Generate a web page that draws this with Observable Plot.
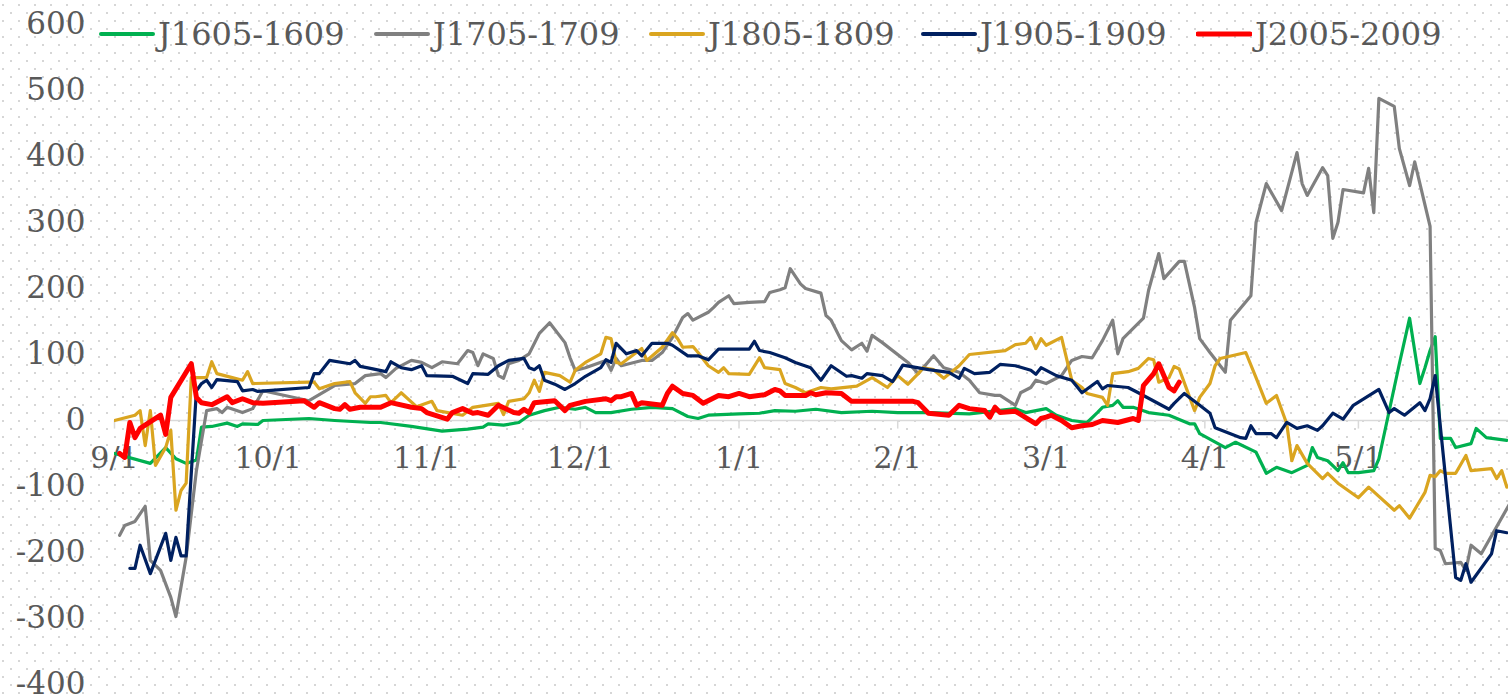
<!DOCTYPE html>
<html>
<head>
<meta charset="utf-8">
<script src="https://cdn.jsdelivr.net/npm/d3@7"></script>
<script src="https://cdn.jsdelivr.net/npm/@observablehq/plot@0.6"></script>
<style>
  html, body { margin: 0; padding: 0; overflow: hidden; width: 1508px; height: 697px; }
  body {
    background-color: #ffffff;
    background-image: url("data:image/svg+xml,%3Csvg xmlns='http://www.w3.org/2000/svg' width='16' height='16'%3E%3Crect x='2' y='4' width='2' height='2' fill='%23d6d6d6'/%3E%3Crect x='10' y='12' width='2' height='2' fill='%23d6d6d6'/%3E%3C/svg%3E");
    background-repeat: repeat;
    font-family: "DejaVu Serif", serif;
  }
  #wrap { position: relative; width: 1508px; height: 697px; }
  #chart { position: absolute; left: 0; top: 0; }
  #legend { position: absolute; left: 0; top: 0; width: 1508px; height: 60px; }
  .item { position: absolute; top: 14px; height: 40px; display: flex; align-items: center; color: #595959; font-size: 32px; white-space: nowrap; }
  .item svg { display: block; margin-right: 3px; }
</style>
</head>
<body>
<div id="wrap">
  <div id="chart"></div>
  <div id="legend"></div>
</div>
<script>
// ---- Series names / colours ----
const seriesNames = ["J1605-1609", "J1705-1709", "J1805-1809", "J1905-1909", "J2005-2009"];
const seriesColors = ["#00B050", "#808080", "#DAA520", "#002060", "#FF0000"];

// ---- Axis ticks ----
const yTicks = [-400, -300, -200, -100, 0, 100, 200, 300, 400, 500, 600];
const xTickLabels = ["9/1", "10/1", "11/1", "12/1", "1/1", "2/1", "3/1", "4/1", "5/1"];

// ---- J1605-1609 ----
const j1605Dates = ["9/1","9/8","9/11","9/13","9/15","9/17","9/18","9/20","9/23","9/25","9/26","9/29","9/30",
"10/9","10/14","10/21","10/23","10/29","11/4","11/9","11/12","11/13","11/16","11/19","11/21","11/24","11/27","11/30",
"12/2","12/4","12/7","12/11","12/15","12/19","12/22","12/24","12/26","1/1","1/5","1/8","1/12","1/16","1/21","1/27",
"2/1","2/7","2/15","2/24","2/26","3/1","3/3","3/6","3/9","3/11","3/12","3/14","3/15","3/16","3/18","3/21","3/25","3/29","3/30","3/31",
"4/5","4/7","4/11","4/13","4/15","4/18","4/21","4/22","4/23","4/25","4/27","4/28","4/29",
"5/1","5/4","5/5","5/9","5/11","5/13","5/14","5/15","5/16","5/17","5/19","5/20","5/23","5/24","5/26","5/30"];
const j1605Values = [-50,-65,-41,-58,-65,-60,-10,-9,-4,-9,-5,-6,0,
3,0,-3,-3,-9,-16,-13,-10,-5,-7,-3,8,15,20,17,
20,12,12,17,20,18,6,3,8,10,11,15,14,17,12,14,
12,12,10,18,12,18,8,0,-3,12,20,23,30,20,20,12,8,-5,-5,-20,
-41,-33,-48,-80,-71,-79,-68,-41,-56,-61,-76,-64,-79,
-79,-76,-58,86,155,56,80,106,127,-27,-27,-41,-35,-12,-26,-30];

// ---- J1705-1709 ----
const j1705Dates = ["9/2","9/3","9/5","9/7","9/8","9/10","9/12","9/13","9/15","9/17","9/19","9/21","9/22","9/23","9/26","9/28","9/30",
"10/9","10/14","10/18","10/20","10/23","10/24","10/26","10/29","10/31",
"11/2","11/4","11/7","11/9","11/10","11/11","11/12","11/14","11/15","11/16","11/17","11/19","11/21","11/23","11/25","11/28","11/29","11/30",
"12/2","12/6","12/7","12/8","12/9","12/13","12/15","12/17","12/19","12/21","12/22","12/23","12/26","12/27","12/28","12/30","12/31",
"1/3","1/6","1/7","1/9","1/10","1/11","1/13","1/14","1/17","1/18","1/19","1/21","1/23","1/25","1/26","1/27","1/29",
"2/3","2/5","2/8","2/10","2/13","2/15","2/17","2/20","2/21","2/24","2/25","2/27","2/28",
"3/1","3/4","3/6","3/8","3/10","3/12","3/14","3/15","3/16","3/20","3/21","3/23","3/24","3/27","3/28","3/30","3/31",
"4/2","4/5","4/6","4/10","4/11","4/13","4/16","4/19","4/20","4/21","4/24","4/25","4/26","4/27","4/28",
"5/2","5/3","5/4","5/5","5/8","5/9","5/11","5/12","5/15","5/16","5/17","5/18","5/21","5/22","5/23","5/25","5/31"];
const j1705Values = [-174,-159,-153,-130,-212,-227,-268,-297,-207,-76,15,18,12,20,12,18,45,
30,53,56,68,71,65,79,91,88,
80,89,86,106,103,83,101,94,68,64,86,91,101,132,148,118,95,76,
80,91,76,94,83,91,91,103,126,156,162,152,164,171,179,189,177,
179,180,194,198,201,230,207,200,193,159,152,121,107,117,105,129,118,
88,71,98,80,73,61,42,38,38,23,42,50,61,
56,68,91,97,95,121,152,101,124,155,197,253,215,241,241,171,124,
103,73,152,189,300,359,318,406,359,341,383,371,276,300,350,
345,382,315,488,476,412,356,392,294,-194,-197,-217,-215,-227,-189,-202,-120];

// ---- J1805-1809 ----
const j1805Dates = ["9/1","9/5","9/6","9/7","9/8","9/9","9/11","9/12","9/13","9/14","9/15","9/16","9/17","9/19","9/20","9/21","9/24","9/26","9/27","9/28",
"10/9","10/10","10/11","10/14","10/17","10/18","10/20","10/21","10/22","10/24","10/25","10/27","10/30",
"11/2","11/3","11/8","11/10","11/15","11/16","11/17","11/20","11/21","11/22","11/23","11/24","11/27","11/29","11/30",
"12/2","12/5","12/6","12/7","12/8","12/9","12/13","12/14","12/17","12/19","12/20","12/21","12/23","12/24","12/26","12/28","12/29","12/30",
"1/3","1/5","1/6","1/9","1/10","1/12","1/14","1/17","1/19","1/24","1/27","1/30",
"2/1","2/3","2/5","2/6","2/8","2/10","2/13","2/15","2/22","2/24","2/26","2/27","2/28","2/29",
"3/1","3/4","3/6","3/8","3/9","3/12","3/13","3/14","3/17","3/19","3/21","3/22","3/23","3/25","3/26","3/27","3/30","3/31",
"4/2","4/3","4/4","4/9","4/11","4/13","4/15","4/17","4/18","4/19","4/21","4/24","4/25","4/27",
"5/1","5/3","5/8","5/9","5/11","5/14","5/15","5/16","5/17","5/18","5/20","5/22","5/23","5/27","5/28","5/29","5/30"];
const j1805Values = [0,8,15,-38,15,-68,-41,-15,-136,-106,-95,65,65,65,89,71,65,61,74,56,
58,58,48,56,59,42,26,36,36,38,27,42,21,
29,15,8,20,26,9,29,33,42,61,44,73,68,58,76,
88,101,126,124,88,86,109,91,111,133,124,111,112,103,83,73,80,71,
70,95,80,77,56,50,42,50,48,52,65,50,
68,55,71,80,77,64,83,100,106,115,117,126,109,124,
114,126,61,50,41,35,23,71,74,79,94,92,58,65,82,78,15,35,
56,83,94,103,65,26,38,-5,-61,-38,-65,-88,-80,-95,
-117,-101,-136,-129,-148,-109,-83,-85,-76,-80,-80,-53,-76,-73,-88,-76,-101];

// ---- J1905-1909 ----
const j1905Dates = ["9/4","9/5","9/6","9/8","9/11","9/12","9/13","9/14","9/15","9/17","9/18","9/19","9/20","9/21","9/25","9/26","9/28","9/29",
"10/9","10/10","10/11","10/13","10/17","10/18","10/19","10/21","10/24","10/25","10/27","10/29","10/31",
"11/1","11/6","11/9","11/10","11/13","11/15","11/17","11/20","11/21","11/22","11/23","11/24","11/26","11/28","11/30",
"12/2","12/5","12/6","12/7","12/8","12/10","12/12","12/13","12/15","12/18","12/19","12/22","12/24","12/26","12/28",
"1/3","1/4","1/5","1/7","1/10","1/12","1/15","1/17","1/19","1/22","1/23","1/25","1/26","1/29","1/31",
"2/2","2/7","2/11","2/13","2/14","2/16","2/19","2/21","2/24","2/27","2/28","2/29",
"3/3","3/6","3/8","3/11","3/12","3/13","3/17","3/19","3/25","3/26","3/28","3/29","3/31",
"4/2","4/3","4/8","4/9","4/10","4/11","4/14","4/15","4/17","4/19","4/21","4/23","4/24","4/26","4/28","4/30",
"5/5","5/7","5/8","5/10","5/13","5/14","5/15","5/16","5/20","5/21","5/22","5/23","5/27","5/28","5/30"];
const j1905Values = [-224,-224,-189,-232,-171,-212,-177,-205,-205,45,56,61,50,62,59,45,47,44,
50,71,71,91,86,91,82,79,74,89,80,77,83,
68,67,56,71,70,83,91,94,80,77,83,61,55,47,56,
67,80,92,88,117,101,106,98,117,117,114,98,98,92,108,
108,120,106,103,95,88,80,61,83,67,68,64,71,68,59,
84,77,73,64,79,71,73,85,83,76,70,80,
68,61,42,59,48,53,50,42,17,26,41,35,23,
11,-11,-26,-27,-8,-20,-20,-26,-3,-12,-8,-15,-8,11,2,23,
47,12,18,8,27,15,33,68,-238,-242,-217,-245,-202,-167,-170];

// ---- J2005-2009 ----
const j2005Dates = ["9/2","9/3","9/4","9/5","9/6","9/10","9/11","9/12","9/16","9/17","9/18","9/20","9/23","9/24","9/26","9/28","9/30",
"10/8","10/10","10/11","10/14","10/15","10/16","10/17","10/19","10/23","10/25","10/29","10/31",
"11/1","11/5","11/6","11/8","11/10","11/11","11/13","11/15","11/18","11/19","11/20","11/21","11/22","11/26","11/28","11/29",
"12/2","12/6","12/7","12/8","12/9","12/11","12/12","12/13","12/17","12/18","12/19","12/21","12/23","12/25","12/28","12/30",
"1/1","1/3","1/6","1/8","1/9","1/10","1/14","1/15","1/16","1/18","1/21","1/23",
"2/4","2/5","2/7","2/11","2/13","2/15","2/18","2/19","2/20","2/21","2/24","2/28","2/29",
"3/1","3/2","3/4","3/6","3/8","3/10","3/12","3/15","3/18","3/19","3/20","3/22","3/23","3/25","3/26","3/27"];
const j2005Values = [-50,-56,-3,-26,-12,8,-21,35,86,35,27,24,36,27,33,27,26,
30,20,27,18,17,24,17,20,20,27,20,18,
12,2,12,18,11,12,8,23,12,11,17,12,27,30,15,23,
29,33,30,36,36,41,23,27,23,41,52,41,38,26,38,36,
41,36,39,47,45,38,38,42,39,42,41,29,
29,27,11,8,23,18,15,5,20,12,14,-5,3,
5,8,0,-11,-8,-6,0,-3,3,0,53,71,86,50,45,58];

const seriesDates = [j1605Dates, j1705Dates, j1805Dates, j1905Dates, j2005Dates];
const seriesValues = [j1605Values, j1705Values, j1805Values, j1905Values, j2005Values];
const seriesWidths = [3.2, 3.2, 3.2, 3.2, 5];

// month/day -> date on a Sep 2019 .. May 2020 season axis
function parseMD(s) {
  const [m, d] = s.split("/").map(Number);
  return new Date(Date.UTC(m >= 9 ? 2019 : 2020, m - 1, d));
}
const xTickDates = xTickLabels.map(parseMD);

const lineMarks = seriesNames.map((name, k) => {
  const rows = seriesDates[k].map((d, i) => ({date: parseMD(d), value: seriesValues[k][i]}));
  return Plot.line(rows, {
    x: "date", y: "value",
    stroke: seriesColors[k], strokeWidth: seriesWidths[k],
    strokeLinejoin: "round", strokeLinecap: "round",
    clip: true
  });
});

const chart = Plot.plot({
  width: 1508,
  height: 697,
  marginLeft: 114,
  marginRight: 0,
  marginTop: 24,
  marginBottom: 13,
  style: {background: "transparent", fontFamily: "'DejaVu Serif', serif", overflow: "hidden"},
  x: {type: "utc", domain: [new Date(Date.UTC(2019, 8, 1)), new Date(Date.UTC(2020, 4, 30, 7, 40))], axis: null},
  y: {domain: [-400, 600], axis: null},
  marks: [
    Plot.ruleY([0], {stroke: "#D9D9D9", strokeWidth: 1.5}),
    Plot.ruleX(xTickDates, {x: d => d, y1: 0, y2: -13, stroke: "#D9D9D9", strokeWidth: 1.5}),
    Plot.text(xTickLabels, {x: (d, i) => xTickDates[i], y: 0, text: d => d, dy: 38, fontSize: 30, fill: "#595959"}),
    Plot.axisY(yTicks, {anchor: "left", tickSize: 0, tickPadding: 29, fontSize: 31, color: "#595959", tickFormat: d => String(d), label: null}),
    ...lineMarks
  ]
});
document.getElementById("chart").appendChild(chart);

// ---- Legend ----
const legendLeft = [99, 374, 649, 921, 1196];
const legend = document.getElementById("legend");
seriesNames.forEach((name, k) => {
  const item = document.createElement("div");
  item.className = "item";
  item.style.left = legendLeft[k] + "px";
  const w = k === 4 ? 5 : 4;
  item.innerHTML = `<svg width="56" height="12"><line x1="2" y1="6" x2="54" y2="6" stroke="${seriesColors[k]}" stroke-width="${w}" stroke-linecap="round"/></svg><span>${name}</span>`;
  legend.appendChild(item);
});
</script>
</body>
</html>
